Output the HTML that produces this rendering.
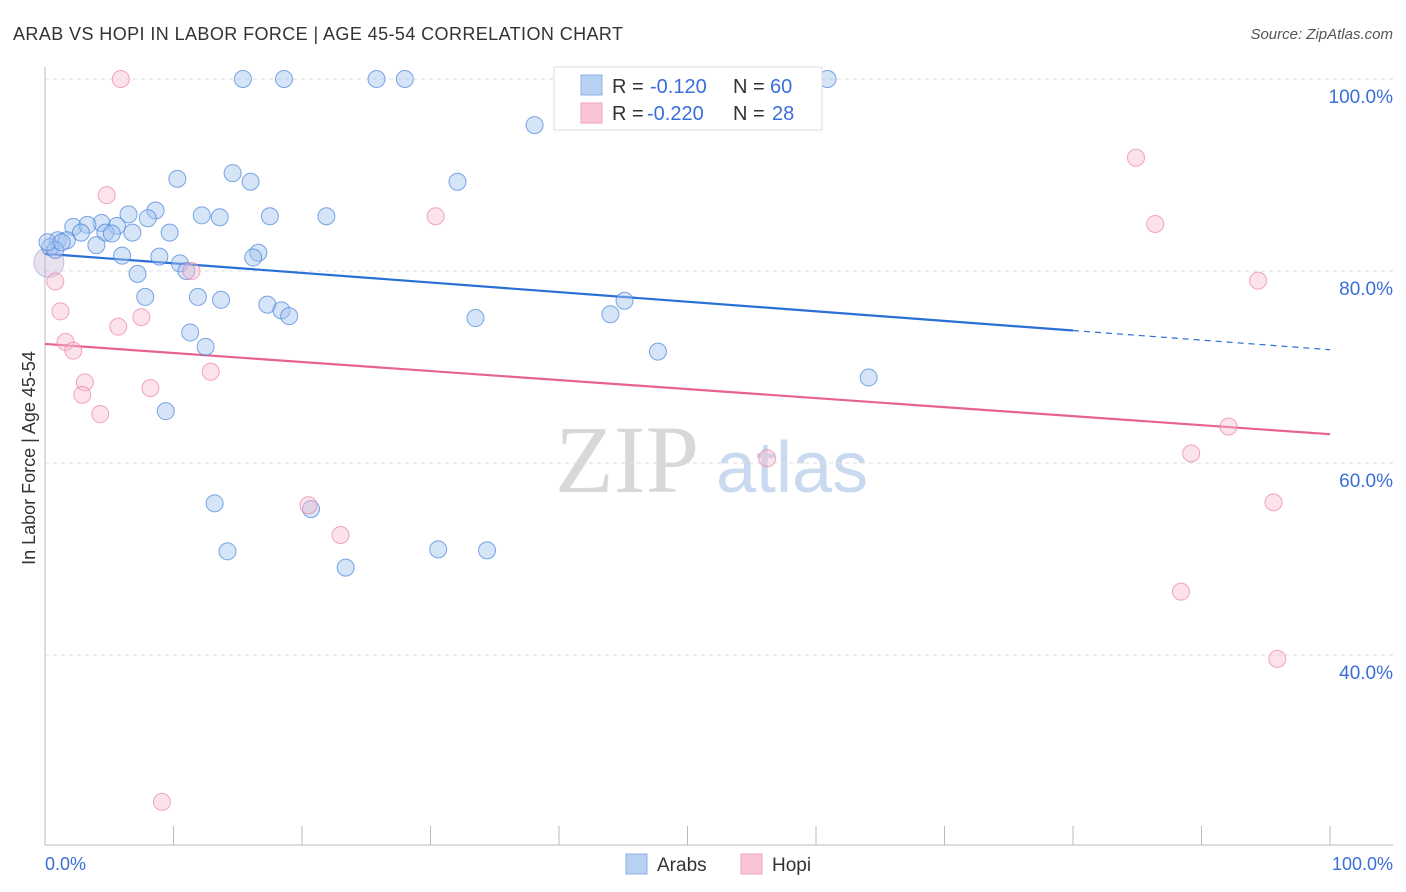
<!DOCTYPE html>
<html><head><meta charset="utf-8"><style>
body{margin:0;background:#fff;width:1406px;height:892px;overflow:hidden;font-family:"Liberation Sans",sans-serif}
</style></head><body>
<svg id="chart" width="1406" height="892" style="position:absolute;left:0;top:0">
<text x="13" y="40" font-size="18" fill="#333" textLength="610" lengthAdjust="spacing">ARAB VS HOPI IN LABOR FORCE | AGE 45-54 CORRELATION CHART</text>
<text x="1393" y="39" font-size="15" fill="#555" text-anchor="end" font-style="italic">Source: ZipAtlas.com</text>
<text x="35" y="458" font-size="18" fill="#333" text-anchor="middle" transform="rotate(-90 35 458)">In Labor Force | Age 45-54</text>
<g>
<text x="555" y="492" font-size="96" fill="#d8d8d8" font-family="Liberation Serif,serif">ZIP</text>
<text x="716" y="492" font-size="72" fill="#c9d9f0">atlas</text>
</g>
<g id="grid"></g><g id="axes"></g><g id="lines"></g><g id="pts"></g>
<g>
<rect x="554" y="67" width="268" height="63" fill="#fff" stroke="#ddd"/>
<rect x="581" y="75" width="21" height="20" fill="#b8d1f3" stroke="#8db1e6"/>
<rect x="581" y="103" width="21" height="20" fill="#f9c5d4" stroke="#f0a3ba"/>
<text x="612" y="93" font-size="20" fill="#333">R = </text><text x="650" y="93" font-size="20" fill="#3a6fd8">-0.120</text>
<text x="733" y="93" font-size="20" fill="#333">N = </text><text x="770" y="93" font-size="20" fill="#3a6fd8">60</text>
<text x="612" y="120" font-size="20" fill="#333">R = </text><text x="647" y="120" font-size="20" fill="#3a6fd8">-0.220</text>
<text x="733" y="120" font-size="20" fill="#333">N = </text><text x="772" y="120" font-size="20" fill="#3a6fd8">28</text>
</g>
<g>
<rect x="626" y="854" width="21" height="20" fill="#b8d1f3" stroke="#8db1e6"/>
<text x="657" y="871" font-size="19" fill="#333">Arabs</text>
<rect x="741" y="854" width="21" height="20" fill="#f9c5d4" stroke="#f0a3ba"/>
<text x="772" y="871" font-size="19" fill="#333">Hopi</text>
</g>
<text x="45" y="870" font-size="18" fill="#3a6fd8">0.0%</text>
<text x="1393" y="870" font-size="18" fill="#3a6fd8" text-anchor="end">100.0%</text>
</svg>
<script>
const arabX=[15.4,18.6,25.8,28.0,60.9,38.1,10.3,14.6,16.0,32.1,8.6,6.5,12.2,13.6,17.5,21.9,8.0,4.4,2.2,3.3,5.6,2.8,4.7,6.8,5.2,9.7,1.0,1.7,4.0,0.4,0.8,6.0,8.9,16.6,16.2,10.5,11.0,7.2,7.8,11.9,13.7,17.3,18.4,19.0,33.5,44.0,45.1,11.3,12.5,47.7,64.1,9.4,13.2,20.7,14.2,23.4,30.6,34.4,0.2,1.3];
const arabY=[100,100,100,100,100,95.2,89.6,90.2,89.3,89.3,86.3,85.9,85.8,85.6,85.7,85.7,85.5,85.0,84.6,84.8,84.7,84.0,84.0,84.0,83.9,84.0,83.2,83.2,82.7,82.5,82.2,81.6,81.5,81.9,81.4,80.8,80.0,79.7,77.3,77.3,77.0,76.5,75.9,75.3,75.1,75.5,76.9,73.6,72.1,71.6,68.9,65.4,55.8,55.2,50.8,49.1,51.0,50.9,83.0,83.0];
const hopiX=[5.9,4.8,84.9,86.4,94.4,30.4,11.4,0.8,1.2,5.7,7.5,1.6,2.2,3.1,2.9,8.2,12.9,4.3,92.1,89.2,56.2,95.6,20.5,23.0,88.4,95.9,9.1];
const hopiY=[100,87.9,91.8,84.9,79.0,85.7,80.0,78.9,75.8,74.2,75.2,72.6,71.7,68.4,67.1,67.8,69.5,65.1,63.8,61.0,60.5,55.9,55.6,52.5,46.6,39.6,24.7];
const yTicks=[100,80,60,40];
const yTickLabels=["100.0%","80.0%","60.0%","40.0%"];
const xTicks=[0,10,20,30,40,50,60,70,80,90,100];
const arabTrend=[81.8,71.8], hopiTrend=[72.4,63.0];
const X=v=>45+v*12.85, Y=v=>79+(100-v)*9.6;
const NS="http://www.w3.org/2000/svg";
function mk(parent,tag,attrs){const e=document.createElementNS(NS,tag);for(const k in attrs)e.setAttribute(k,attrs[k]);document.getElementById(parent).appendChild(e);return e;}
yTicks.forEach((t,i)=>{
  const l=mk('grid','line',{x1:45,x2:1393,y1:Y(t),y2:Y(t),stroke:'#ddd','stroke-dasharray':'4,4'});
  
  
  const tx=mk('grid','text',{x:1393,y:Y(t)+24,'font-size':19,fill:'#3a6fd8','text-anchor':'end'});
  tx.textContent=yTickLabels[i];
  
  
});
let a=mk('axes','line',{x1:45,x2:45,y1:67,y2:845,stroke:'#bbb'});


a=mk('axes','line',{x1:45,x2:1393,y1:845,y2:845,stroke:'#bbb'});


xTicks.forEach(t=>{const l=mk('axes','line',{x1:X(t),x2:X(t),y1:826,y2:845,stroke:'#bbb'});
  
  });
function pt(x,y,r,fill,stroke,name){const c=mk('pts','circle',{cx:X(x),cy:Y(y),r:r,fill:fill,stroke:stroke,'stroke-width':1});
  
  }
pt(0.3,80.9,15,'rgba(190,170,210,0.35)','rgba(150,160,220,0.6)','point-large');
arabX.forEach((x,i)=>pt(x,arabY[i],8.5,'rgba(163,196,240,0.45)','rgba(70,130,220,0.7)','point-arabs'));
hopiX.forEach((x,i)=>pt(x,hopiY[i],8.5,'rgba(248,185,205,0.4)','rgba(235,130,165,0.7)','point-hopi'));
const sl=(arabTrend[1]-arabTrend[0])/100;
let tl=mk('lines','line',{x1:X(0),y1:Y(arabTrend[0]),x2:X(80),y2:Y(arabTrend[0]+sl*80),stroke:'#2a6fd6','stroke-width':2.2});


tl=mk('lines','line',{x1:X(80),y1:Y(arabTrend[0]+sl*80),x2:X(100),y2:Y(arabTrend[1]),stroke:'#2a6fd6','stroke-width':1.2,'stroke-dasharray':'6,5'});


tl=mk('lines','line',{x1:X(0),y1:Y(hopiTrend[0]),x2:X(100),y2:Y(hopiTrend[1]),stroke:'#e8628f','stroke-width':2.2});


</script>
</body></html>
